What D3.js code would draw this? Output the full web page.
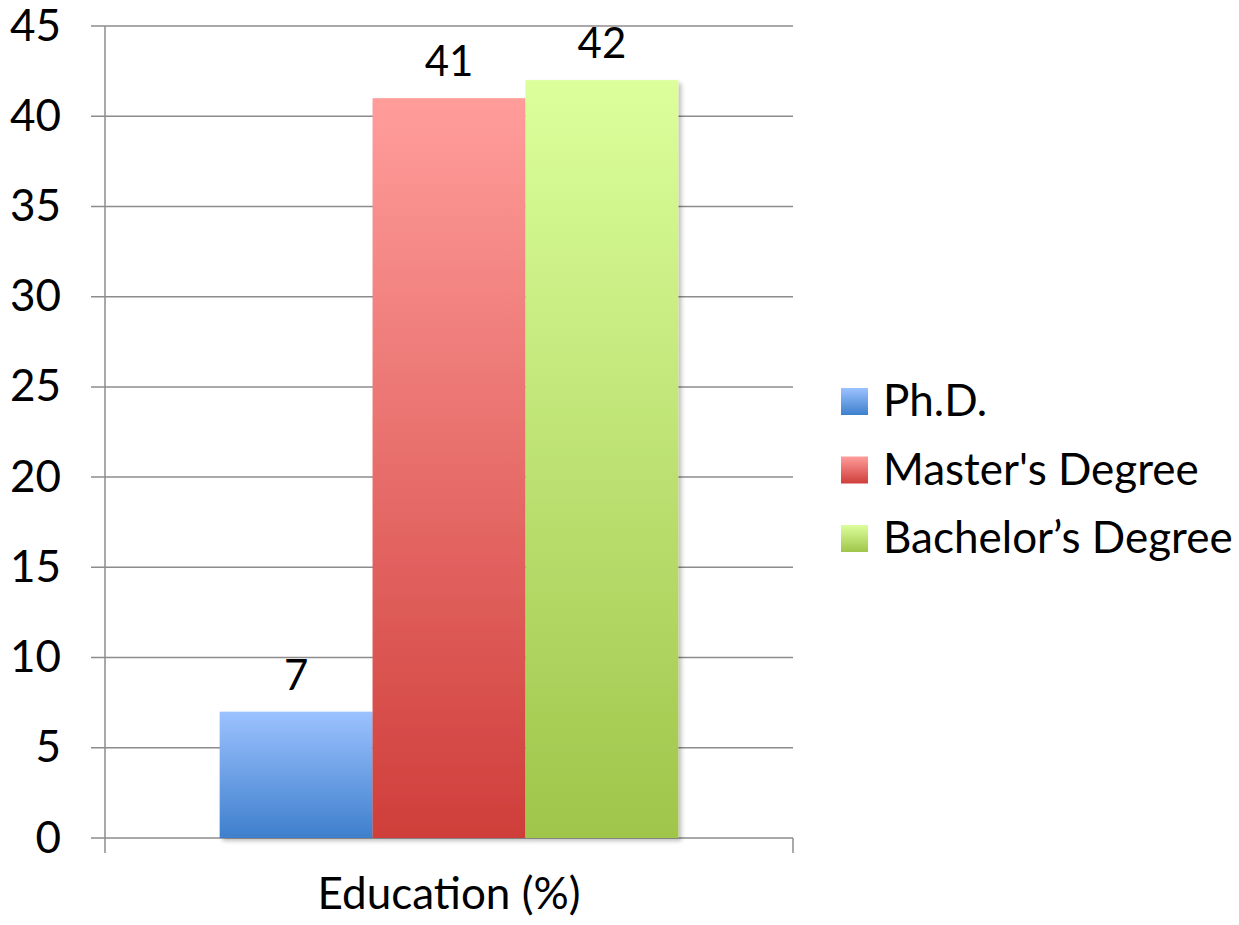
<!DOCTYPE html>
<html><head><meta charset="utf-8">
<script src="https://cdn.jsdelivr.net/npm/d3@7"></script>
<style>body{margin:0;background:#fff}svg{display:block}</style>
</head><body>
<script>
const categories = ["Education (%)"];
const seriesNames = ["Ph.D.", "Master's Degree", "Bachelor\u2019s Degree"];
const seriesValues = [7, 41, 42];
const yTicks = [0, 5, 10, 15, 20, 25, 30, 35, 40, 45];
const topColors = ["#9cc2ff", "#ff9d9b", "#dcff9c"];
const bottomColors = ["#3e7fcd", "#cf3e3a", "#9fc54a"];

(function () {
const W = 1239, H = 925;
const svg = d3.select("body").append("svg").attr("width", W).attr("height", H);
const font = "Lato, 'Open Sans', sans-serif";

const defs = svg.append("defs");
seriesNames.forEach((s, i) => {
  const g = defs.append("linearGradient").attr("id", "g" + i).attr("x1", 0).attr("y1", 0).attr("x2", 0).attr("y2", 1);
  g.append("stop").attr("offset", "0%").attr("stop-color", topColors[i]);
  g.append("stop").attr("offset", "100%").attr("stop-color", bottomColors[i]);
});
const f = defs.append("filter").attr("id", "sh").attr("x", "-10%").attr("y", "-10%").attr("width", "130%").attr("height", "130%");
f.append("feDropShadow").attr("dx", 3).attr("dy", 3).attr("stdDeviation", 2).attr("flood-color", "#000").attr("flood-opacity", 0.25);

const pl = 105, pr = 793, pt = 26, pb = 838;
const y = d3.scaleLinear().domain([0, 45]).range([pb, pt]);
const x0 = d3.scaleBand().domain(categories).range([pl, pr]).paddingInner(0).paddingOuter(0.25);
const x1 = d3.scaleBand().domain(seriesNames).range([0, x0.bandwidth()]).padding(0);

// gridlines
svg.append("g").selectAll("line").data(yTicks).join("line")
  .attr("x1", pl - 14).attr("x2", pr).attr("y1", d => y(d)).attr("y2", d => y(d))
  .attr("stroke", "#8c8c8c").attr("stroke-width", 1.5);

// y axis
const yAxis = svg.append("g").attr("transform", `translate(${pl},0)`)
  .call(d3.axisLeft(y).tickValues(yTicks).tickSize(0).tickPadding(44));
yAxis.select(".domain").remove();
yAxis.selectAll("text").attr("font-family", font).attr("font-size", 44).attr("fill", "#000");
svg.append("line").attr("x1", pl).attr("x2", pl).attr("y1", pt).attr("y2", pb + 15).attr("stroke", "#8c8c8c").attr("stroke-width", 1.5);
svg.append("line").attr("x1", pr).attr("x2", pr).attr("y1", pb).attr("y2", pb + 15).attr("stroke", "#8c8c8c").attr("stroke-width", 1.5);

// x axis labels
const xAxis = svg.append("g").attr("transform", `translate(0,${pb})`)
  .call(d3.axisBottom(x0).tickSize(0).tickPadding(40));
xAxis.select(".domain").remove();
xAxis.selectAll("text").attr("font-family", font).attr("font-size", 44).attr("fill", "#000");

// bars
const data = seriesNames.map((s, i) => ({ s, v: seriesValues[i], i, c: categories[0] }));
svg.append("g").selectAll("rect").data(data).join("rect")
  .attr("x", d => x0(d.c) + x1(d.s)).attr("width", x1.bandwidth())
  .attr("y", d => y(d.v)).attr("height", d => y(0) - y(d.v))
  .attr("fill", d => `url(#g${d.i})`).attr("filter", "url(#sh)");

// labels
svg.append("g").selectAll("text").data(data).join("text")
  .attr("x", d => x0(d.c) + x1(d.s) + x1.bandwidth() / 2).attr("y", d => y(d.v) - 22)
  .attr("text-anchor", "middle").attr("font-family", font).attr("font-size", 42).attr("fill", "#000")
  .text(d => d.v);

// legend
const lg = svg.append("g");
const lgY = d3.scalePoint().domain(seriesNames).range([401, 538]);
lg.selectAll("rect").data(data).join("rect")
  .attr("x", 841).attr("y", d => lgY(d.s) - 13).attr("width", 27).attr("height", 27)
  .attr("fill", d => `url(#g${d.i})`);
lg.selectAll("text").data(data).join("text")
  .attr("x", 883).attr("y", d => lgY(d.s)).attr("dy", "0.35em")
  .attr("font-family", font).attr("font-size", 44).attr("fill", "#000").text(d => d.s);
})();
</script>
</body></html>
